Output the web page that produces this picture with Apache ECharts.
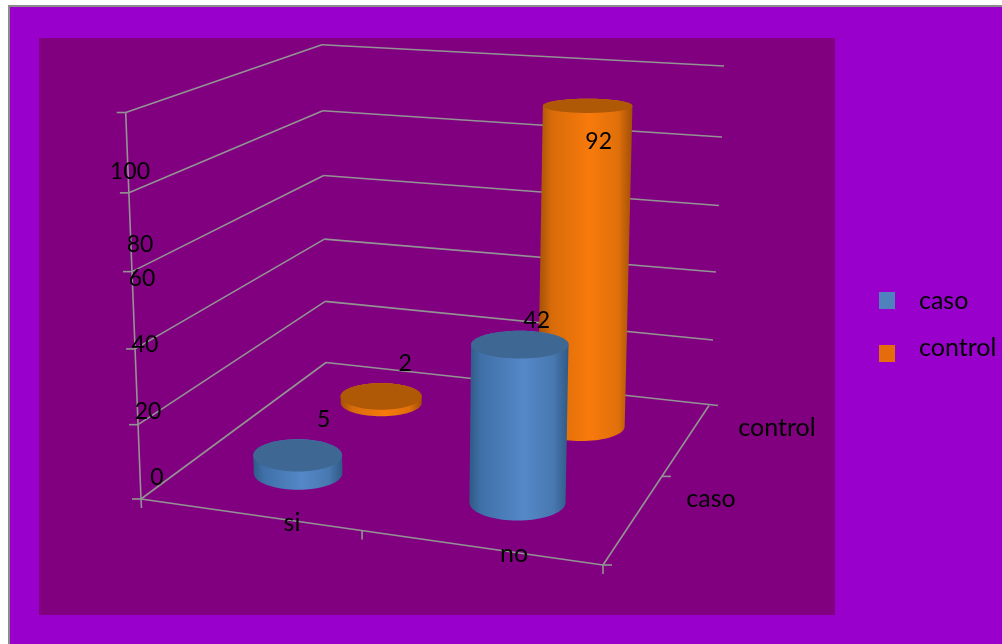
<!DOCTYPE html>
<html><head><meta charset="utf-8">
<style>html,body{margin:0;padding:0;background:#fff}#c{width:1002px;height:644px}</style>
<script src="https://cdn.jsdelivr.net/npm/echarts@6/dist/echarts.min.js"></script>
</head><body><div id="c"></div>
<script>
// ---- data ----
const categories = ['si', 'no'];
const depthNames = ['caso', 'control'];
const casoValues = [5, 42];
const controlValues = [2, 92];
const yTicks = [0, 20, 40, 60, 80, 100];
// ---- text placement ----
const yLabelAnchors = [[157,477.5],[148,411.5],[145,344.5],[142,278.5],[140,244.5],[130,171.5]];
const catLabelAnchors = [[292,523],[514,554]];
const depthLabelAnchors = [[711,499],[777,428]];
const labelOffsets = { caso: [[26,-36],[17,-24]], control: [[24,-33],[11,36]] };
// ---- projection frame ----
const floorQuad = [[141,499],[603,565],[709,405.5],[326,362.5]];
const topQuad = [[125.7,112.5],[620,150],[724,66],[322,44.7]];
const wallEnds = [[718,405.5],[713,340],[716,272],[719,205.5],[722,137],[724,66]];
const radius = { u: 0.105, w: 0.105 };
const FONT = 'Lato';
const TEXT = '#000';
const LINE = '#939393';

function homography(q) {
  const [x0,y0]=q[0],[x1,y1]=q[1],[x2,y2]=q[2],[x3,y3]=q[3];
  const dx1=x1-x2,dx2=x3-x2,sx=x0-x1+x2-x3,dy1=y1-y2,dy2=y3-y2,sy=y0-y1+y2-y3;
  const den=dx1*dy2-dx2*dy1, g=(sx*dy2-dx2*sy)/den, h=(dx1*sy-sx*dy1)/den;
  const a=x1-x0+g*x1,b=x3-x0+h*x3,d=y1-y0+g*y1,e=y3-y0+h*y3;
  return (u,w)=>{const k=g*u+h*w+1;return [(a*u+b*w+x0)/k,(d*u+e*w+y0)/k];};
}
const floorH = homography(floorQuad), topH = homography(topQuad);
function project(u,w,t){
  const f=floorH(u,w), p=topH(u,w), s=t/(1+0.05*(1-t));
  return [f[0]+(p[0]-f[0])*s, f[1]+(p[1]-f[1])*s];
}
function hull(pts){
  const s=pts.slice().sort((a,b)=>a[0]-b[0]||a[1]-b[1]);
  const cr=(o,a,b)=>(a[0]-o[0])*(b[1]-o[1])-(a[1]-o[1])*(b[0]-o[0]);
  const lo=[],up=[];
  for(const p of s){while(lo.length>1&&cr(lo[lo.length-2],lo[lo.length-1],p)<=0)lo.pop();lo.push(p);}
  for(const p of s.slice().reverse()){while(up.length>1&&cr(up[up.length-2],up[up.length-1],p)<=0)up.pop();up.push(p);}
  return lo.slice(0,-1).concat(up.slice(0,-1));
}
// Level ellipse around the projected centre: width follows the local scale of
// the floor along u, height follows it along w and flattens towards eye level.
function ring(u,w,t){
  const c=project(u,w,t);
  const rx=radius.u*Math.abs(floorH(u+0.5,w)[0]-floorH(u-0.5,w)[0])*(1+0.03*t);
  const ry=radius.w*Math.abs(floorH(u,w+0.5)[1]-floorH(u,w-0.5)[1])*(1-0.55*t);
  const r=[];
  for(let i=0;i<72;i++){const a=i/72*2*Math.PI;r.push([c[0]+rx*Math.cos(a),c[1]+ry*Math.sin(a)]);}
  return r;
}
function unit(params,api,cat,val){
  const c=params.coordSys, p=api.coord([cat,val]);
  return [(p[0]-c.x)/c.width, 1-(p[1]-c.y)/c.height];
}
function cylinder(name,depthIdx,stops,topColor){
  return function(params,api){
    const cat=api.value(0), val=api.value(1);
    const [u,t]=unit(params,api,cat,val);
    const w=(depthIdx+0.5)/depthNames.length;
    const bottom=ring(u,w,0), top=ring(u,w,t);
    const tc=project(u,w,t), off=labelOffsets[name][cat];
    return {type:'group',children:[
      {type:'polygon',shape:{points:hull(bottom.concat(top))},
       style:{fill:new echarts.graphic.LinearGradient(0,0,1,0,stops)}},
      {type:'polygon',shape:{points:top},style:{fill:topColor}},
      {type:'text',z2:50,style:{x:tc[0]+off[0],y:tc[1]+off[1],text:String(val),fill:TEXT,
        font:'23px '+FONT,textAlign:'center',textVerticalAlign:'middle'}}
    ]};
  };
}
function line(a,b){return {type:'line',shape:{x1:a[0],y1:a[1],x2:b[0],y2:b[1]},style:{stroke:LINE,lineWidth:1.6}};}
function label(a,s,size){return {type:'text',z2:40,style:{x:a[0],y:a[1],text:s,fill:TEXT,font:size+'px '+FONT,textAlign:'center',textVerticalAlign:'middle'}};}
function frame(params,api){
  const ch=[];
  yTicks.forEach((tick,i)=>{
    const [,t]=unit(params,api,0,tick);
    const fl=project(0,0,t), bl=project(0,1,t);
    ch.push(line(fl,bl));
    ch.push(line(bl,wallEnds[i]));
    ch.push(line([fl[0]-9,fl[1]],fl));
    ch.push(label(yLabelAnchors[i],String(tick),23));
  });
  const FL=floorQuad[0],FR=floorQuad[1],BR=floorQuad[2];
  ch.push(line(FL,project(0,0,1)));
  ch.push(line(FL,FR));
  ch.push(line(FR,BR));
  ch.push(line(FL,[FL[0]+0.5,FL[1]+9]));
  ch.push(line(FR,[FR[0],FR[1]+9]));
  ch.push(line(FR,[FR[0]+9,FR[1]]));
  const midF=floorH(0.5,0), midR=floorH(1,0.5);
  ch.push(line(midF,[midF[0],midF[1]+9]));
  ch.push(line(midR,[midR[0]+9,midR[1]]));
  categories.forEach((c,i)=>ch.push(label(catLabelAnchors[i],c,25)));
  depthNames.forEach((c,i)=>ch.push(label(depthLabelAnchors[i],c,25)));
  return {type:'group',children:ch};
}
const blueStops=[{offset:0,color:'#2f5a86'},{offset:.12,color:'#3f70a8'},{offset:.55,color:'#5588c8'},{offset:.85,color:'#4878b0'},{offset:1,color:'#2f5a86'}];
const orangeStops=[{offset:0,color:'#a04e08'},{offset:.15,color:'#d86c0a'},{offset:.55,color:'#f87a0b'},{offset:.85,color:'#e0700a'},{offset:1,color:'#a04e08'}];

const chart=echarts.init(document.getElementById('c'),null,{renderer:'canvas'});
chart.setOption({
  animation:false,
  backgroundColor:'transparent',
  graphic:[
    {type:'rect',z:-3,silent:true,shape:{x:8,y:5,width:994,height:639},style:{fill:'#8c8c8c'}},
    {type:'rect',z:-2,silent:true,shape:{x:10,y:7,width:992,height:637},style:{fill:'#9900cc'}},
    {type:'rect',z:-1,silent:true,shape:{x:39,y:38,width:796,height:577},style:{fill:'#800080'}}
  ],
  grid:{left:100,top:100,width:400,height:400,show:false},
  xAxis:{type:'category',data:categories,show:false},
  yAxis:{type:'value',min:0,max:100,interval:20,show:false},
  legend:{orient:'vertical',left:874,top:283,icon:'rect',itemWidth:16,itemHeight:17,itemGap:22,
    selectedMode:false,
    textStyle:{color:TEXT,fontFamily:FONT,fontSize:25,padding:[0,0,0,19],
      rich:{t:{fontFamily:FONT,fontSize:25,color:TEXT,lineHeight:30},s:{fontSize:4,lineHeight:12}}},
    formatter:n=>n==='control'?'{t|control}\n{s| }':'{t|'+n+'}',
    data:['caso','control']},
  series:[
    {type:'custom',name:'frame',z:1,silent:true,clip:false,data:[[0,0]],renderItem:frame},
    {type:'custom',name:'control',z:2,clip:false,itemStyle:{color:'#e46c0a'},
     data:controlValues.map((v,i)=>[i,v]),renderItem:cylinder('control',1,orangeStops,'#af5907')},
    {type:'custom',name:'caso',z:3,clip:false,itemStyle:{color:'#4f81bd'},
     data:casoValues.map((v,i)=>[i,v]),renderItem:cylinder('caso',0,blueStops,'#3e6893')}
  ]
});
</script></body></html>
